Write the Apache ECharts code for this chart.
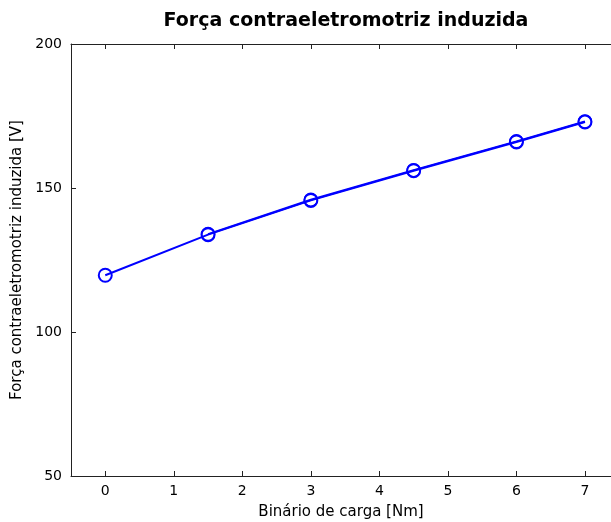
<!DOCTYPE html>
<html>
<head>
<meta charset="utf-8">
<script src="https://cdn.jsdelivr.net/npm/echarts@6/dist/echarts.min.js"></script>
<style>html,body{margin:0;padding:0;background:#fff}#c{width:611px;height:522px}</style>
</head>
<body>
<div id="c"></div>
<script>
const titleText = "Força contraeletromotriz induzida";
const xName = "Binário de carga [Nm]";
const yName = "Força contraeletromotriz induzida [V]";
const xTicks = [0, 1, 2, 3, 4, 5, 6, 7];
const torque = [0, 1.5, 3, 4.5, 6, 7];
const emf = [119.7, 133.8, 145.7, 156.0, 166.0, 172.9];
const torque2 = [1.5, 3, 4.5, 6, 7];
const emf2 = [134.0, 145.9, 156.2, 166.2, 173.1];

const font = "DejaVu Sans";
const axisColor = '#222';
const chart = echarts.init(document.getElementById('c'));
const xBase = {
  type: 'value', min: -0.5, max: 7.38,
  axisLine: {show: true, onZero: false, lineStyle: {color: axisColor}},
  axisTick: {show: true, inside: true, length: 5, customValues: xTicks, lineStyle: {color: axisColor}},
  splitLine: {show: false}
};
chart.setOption({
  animation: false,
  backgroundColor: '#fff',
  title: {
    text: titleText, left: 341, top: 7, textAlign: 'center',
    textStyle: {fontFamily: font, fontSize: 19, fontWeight: 'bold', color: '#000'}
  },
  grid: {left: 71, top: 44, right: 0, bottom: 46, show: false, containLabel: false, outerBoundsMode: 'none'},
  xAxis: [
    Object.assign({}, xBase, {
      position: 'bottom',
      name: xName, nameLocation: 'middle', nameGap: 29,
      nameTextStyle: {fontFamily: font, fontSize: 15, color: '#000'},
      axisLabel: {fontFamily: font, fontSize: 14, color: '#000', margin: 8, customValues: xTicks}
    }),
    Object.assign({}, xBase, {
      position: 'top',
      axisLabel: {show: false}
    })
  ],
  yAxis: {
    type: 'value', min: 50, max: 200, interval: 50,
    name: yName, nameLocation: 'middle', nameGap: 45, nameRotate: 90,
    nameTextStyle: {fontFamily: font, fontSize: 15, color: '#000'},
    axisLine: {show: true, onZero: false, lineStyle: {color: axisColor}},
    axisTick: {show: true, inside: true, length: 5, lineStyle: {color: axisColor}},
    axisLabel: {fontFamily: font, fontSize: 14, color: '#000', margin: 9},
    splitLine: {show: false}
  },
  series: [
    {
      type: 'line', xAxisIndex: 0, data: torque.map((x, i) => [x, emf[i]]),
      lineStyle: {color: '#0000ff', width: 2},
      symbol: 'circle', symbolSize: 13,
      itemStyle: {color: 'transparent', borderColor: '#0000ff', borderWidth: 2},
      z: 3
    },
    {
      type: 'line', xAxisIndex: 0, data: torque2.map((x, i) => [x, emf2[i]]),
      lineStyle: {color: '#0000ff', width: 2},
      symbol: 'circle', symbolSize: 13,
      itemStyle: {color: 'transparent', borderColor: '#0000ff', borderWidth: 1.5},
      z: 3
    }
  ]
});
</script>
</body>
</html>
